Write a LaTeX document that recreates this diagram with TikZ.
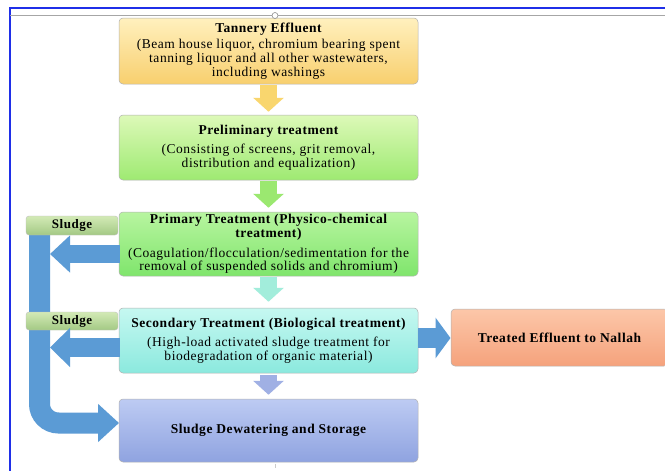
\documentclass[tikz,border=0pt]{standalone}
\usepackage{fontspec}
\setmainfont{Liberation Serif}[LetterSpace=4]
\usetikzlibrary{arrows.meta}
\definecolor{tanTop}{HTML}{FFF0BE}
\definecolor{tanBot}{HTML}{F8CF6E}
\definecolor{preTop}{HTML}{DDF9B8}
\definecolor{preBot}{HTML}{9EEA72}
\definecolor{priTop}{HTML}{B8F5A0}
\definecolor{priBot}{HTML}{7FE56C}
\definecolor{secTop}{HTML}{C6F8F1}
\definecolor{secBot}{HTML}{8BE9DE}
\definecolor{dewTop}{HTML}{BDCBF3}
\definecolor{dewBot}{HTML}{8FA3E0}
\definecolor{trTop}{HTML}{FCC7A9}
\definecolor{trBot}{HTML}{F5A27C}
\definecolor{slTop}{HTML}{D3EAB6}
\definecolor{slBot}{HTML}{A3C984}
\definecolor{flowBlue}{HTML}{5B9BD5}
\definecolor{arrYel}{HTML}{F9D66E}
\definecolor{arrGrn}{HTML}{9BE870}
\definecolor{arrTeal}{HTML}{A2EDDB}
\definecolor{arrLav}{HTML}{A0B0E4}
\definecolor{frameBlue}{HTML}{1F2FE8}
\begin{document}
\begin{tikzpicture}[x=1pt,y=-1pt,
  box/.style={draw=black!30, line width=0.5pt, rounded corners=4pt,
    minimum width=299pt, align=center, inner sep=2pt,
    font=\fontsize{13.5}{13.6}\selectfont},
  sludgelabel/.style={draw=black!25, line width=0.4pt, rounded corners=3pt,
    top color=slTop, bottom color=slBot, minimum width=92pt, inner sep=0pt,
    font=\fontsize{13}{13.5}\selectfont\bfseries},
  downflow/.style={line width=17pt, -{Triangle[width=30pt,length=14pt]}},
  sideflow/.style={flowBlue, line width=#1},
]
\useasboundingbox (0,0) rectangle (665,471);
\fill[white] (0,0) rectangle (665,471);
% frame
\draw[frameBlue, line width=1.2pt] (10,471) -- (10,8) -- (665,8);
\draw[black!35, line width=0.6pt] (10,15.5) -- (665,15.5);

% big blue sludge band (drawn first)
\coordinate (bandtop) at (39.5,235);
\coordinate (bandcorner) at (39.5,423);
\coordinate (bandend) at (119,423);
\draw[sideflow=21pt, rounded corners=19pt, -{Triangle[width=37pt,length=21pt]}]
  (bandtop) -- (bandcorner) -- (bandend);

% boxes
\node[box, top color=tanTop, bottom color=tanBot, minimum height=66pt] (te) at (268.5,51)
 {{\bfseries Tannery Effluent}\\[3pt]
  (Beam house liquor, chromium bearing spent\\
  tanning liquor and all other wastewaters,\\
  including washings};
\node[box, top color=preTop, bottom color=preBot, minimum height=65pt] (pre) at (268.5,147.5)
 {{\bfseries Preliminary treatment}\\[6pt]
  (Consisting of screens, grit removal,\\
  distribution and equalization)};
\node[box, top color=priTop, bottom color=priBot, minimum height=64pt] (pri) at (268.5,244)
 {\\[-4pt]{\bfseries Primary Treatment (Physico-chemical}\\
  {\bfseries treatment)}\\[6pt]
  (Coagulation/flocculation/sedimentation for the\\
  removal of suspended solids and chromium)};
\node[box, top color=secTop, bottom color=secBot, minimum height=65pt] (sec) at (268.5,340.5)
 {{\bfseries Secondary Treatment (Biological treatment)}\\[6pt]
  (High-load activated sludge treatment for\\
  biodegradation of organic material)};
\node[box, top color=dewTop, bottom color=dewBot, minimum height=63pt] (dew) at (268.5,430.5)
 {\bfseries Sludge Dewatering and Storage};
\node[box, top color=trTop, bottom color=trBot, minimum width=217pt, minimum height=57pt] (tr) at (559.5,337.5)
 {\bfseries Treated Effluent to Nallah};

% sludge labels
\node[sludgelabel, minimum height=19pt] (sl1) at (72,225.5) {Sludge};
\node[sludgelabel, minimum height=18pt] (sl2) at (72,321) {Sludge};

% left sludge arrows
\coordinate (pout) at (119.5,254);
\coordinate (pin) at (50,254);
\draw[sideflow=18pt, -{Triangle[width=36pt,length=20pt]}] (pout) -- (pin);
\coordinate (sout) at (119.5,347.5);
\coordinate (sin) at (50,347.5);
\draw[sideflow=19pt, -{Triangle[width=38pt,length=20pt]}] (sout) -- (sin);

% right arrow to treated effluent
\coordinate (rout) at (418,338);
\coordinate (rin) at (450.5,338);
\draw[sideflow=20pt, -{Triangle[width=40pt,length=15pt]}] (rout) -- (rin);

% vertical flow arrows
\draw[downflow, arrYel] ([yshift=-1pt]te.south) -- ([yshift=3pt]pre.north);
\draw[downflow, arrGrn] ([yshift=-1pt]pre.south) -- ([yshift=4pt]pri.north);
\draw[downflow, arrTeal] ([yshift=-1pt]pri.south) -- ([yshift=6pt]sec.north);
\draw[downflow, arrLav] ([yshift=-2pt]sec.south) -- ([yshift=4pt]dew.north);

% small marks
\draw[black!45, fill=white, line width=0.6pt] (275,15.5) circle (3pt);
\draw[black!20, line width=0.8pt] (275,464) -- (275,468);
\end{tikzpicture}
\end{document}
